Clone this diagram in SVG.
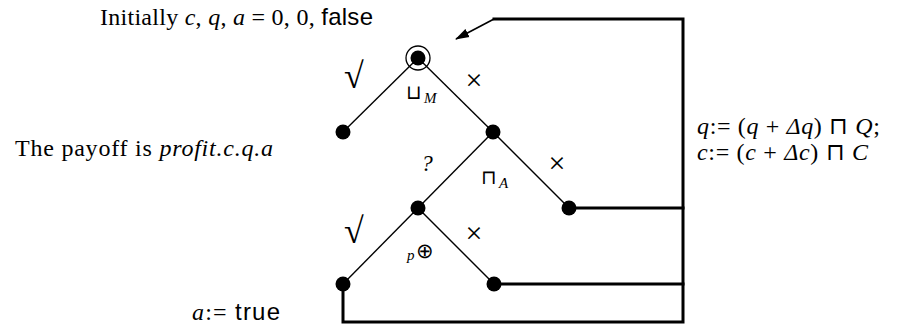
<svg xmlns="http://www.w3.org/2000/svg" width="899" height="329" viewBox="0 0 899 329">
<defs>
<marker id="ah" markerWidth="14" markerHeight="10" refX="13" refY="5" orient="auto" markerUnits="userSpaceOnUse"><path d="M0,0.5 L14,5 L0,9.5 z" fill="#000"/></marker>
<style>
.edge{stroke:#000;stroke-width:1.4;fill:none}
.conn{stroke:#000;stroke-width:3;fill:none;stroke-linejoin:miter;stroke-linecap:square}
.arr{stroke:#000;stroke-width:1.6;fill:none}
.dot{fill:#000}
.ring{fill:none;stroke:#000;stroke-width:1.3}
.t{font-family:"Liberation Serif",serif;font-size:24px;fill:#000}
.i{font-style:italic}
.sf{font-family:"Liberation Sans",sans-serif}
.sym{font-family:"DejaVu Sans","Liberation Serif",sans-serif;font-weight:200}
.lbl{font-family:"Liberation Serif",serif;fill:#000}
.chk{font-family:"Liberation Serif",serif;font-size:36px;fill:#000}
.x{font-family:"Liberation Serif",serif;font-size:30px;fill:#000}
</style>
</defs>
<rect width="899" height="329" fill="#fff"/>
<g id="connectors">
<line class="edge" x1="418" y1="58" x2="343" y2="132"/>
<line class="edge" x1="418" y1="58" x2="493" y2="132"/>
<line class="edge" x1="493" y1="132" x2="418" y2="208"/>
<line class="edge" x1="493" y1="132" x2="569" y2="208"/>
<line class="edge" x1="418" y1="208" x2="343" y2="284"/>
<line class="edge" x1="418" y1="208" x2="494" y2="284"/>
<path class="conn" d="M569,208 H683"/>
<path class="conn" d="M494,284 H683"/>
<path class="conn" d="M343,284 V322 H683 V19 H494"/>
<line class="arr" x1="494" y1="19" x2="456" y2="39" marker-end="url(#ah)"/>
</g>
<g id="root"><circle class="ring" cx="418" cy="58" r="12"/><circle class="dot" cx="418" cy="58" r="7.5"/></g>
<g id="n-left"><circle class="dot" cx="343" cy="132" r="7.5"/></g>
<g id="n-right"><circle class="dot" cx="493" cy="132" r="7.5"/></g>
<g id="n-mid"><circle class="dot" cx="418" cy="208" r="7.5"/></g>
<g id="n-midright"><circle class="dot" cx="569" cy="208" r="7.5"/></g>
<g id="n-botleft"><circle class="dot" cx="343" cy="284" r="7.5"/></g>
<g id="n-botright"><circle class="dot" cx="494" cy="284" r="7.5"/></g>
<g id="labels">
<text class="chk" x="344" y="88">√</text>
<text class="lbl sym" x="406" y="99" font-size="20">⊔</text>
<text class="lbl i" x="424" y="103" font-size="15">M</text>
<text class="x" x="474" y="90" text-anchor="middle">×</text>
<text class="lbl i" x="427" y="171" font-size="23" text-anchor="middle">?</text>
<text class="lbl sym" x="481" y="184" font-size="20">⊓</text>
<text class="lbl i" x="499" y="188" font-size="15">A</text>
<text class="x" x="557" y="173" text-anchor="middle">×</text>
<text class="chk" x="344" y="243">√</text>
<text class="lbl i" x="407" y="260" font-size="15">p</text>
<text class="lbl sym" x="416" y="258" font-size="21">⊕</text>
<text class="x" x="474" y="243" text-anchor="middle">×</text>
</g>
<g id="texts">
<text class="t" x="100" y="25" textLength="273" lengthAdjust="spacing">Initially <tspan class="i">c</tspan>, <tspan class="i">q</tspan>, <tspan class="i">a</tspan> = 0, 0, <tspan class="sf">false</tspan></text>
<text class="t" x="15" y="156" textLength="258" lengthAdjust="spacing">The payoff is <tspan class="i">profit.c.q.a</tspan></text>
<text class="t" x="697" y="134" textLength="183" lengthAdjust="spacing"><tspan class="i">q</tspan>:=  (<tspan class="i">q</tspan> + <tspan class="i">Δq</tspan>) <tspan class="sym">⊓</tspan> <tspan class="i">Q</tspan>;</text>
<text class="t" x="697" y="160" textLength="171" lengthAdjust="spacing"><tspan class="i">c</tspan>:=  (<tspan class="i">c</tspan> + <tspan class="i">Δc</tspan>) <tspan class="sym">⊓</tspan> <tspan class="i">C</tspan></text>
<text class="t" x="192" y="320" textLength="88" lengthAdjust="spacing"><tspan class="i">a</tspan>:= <tspan class="sf">true</tspan></text>
</g>
</svg>
